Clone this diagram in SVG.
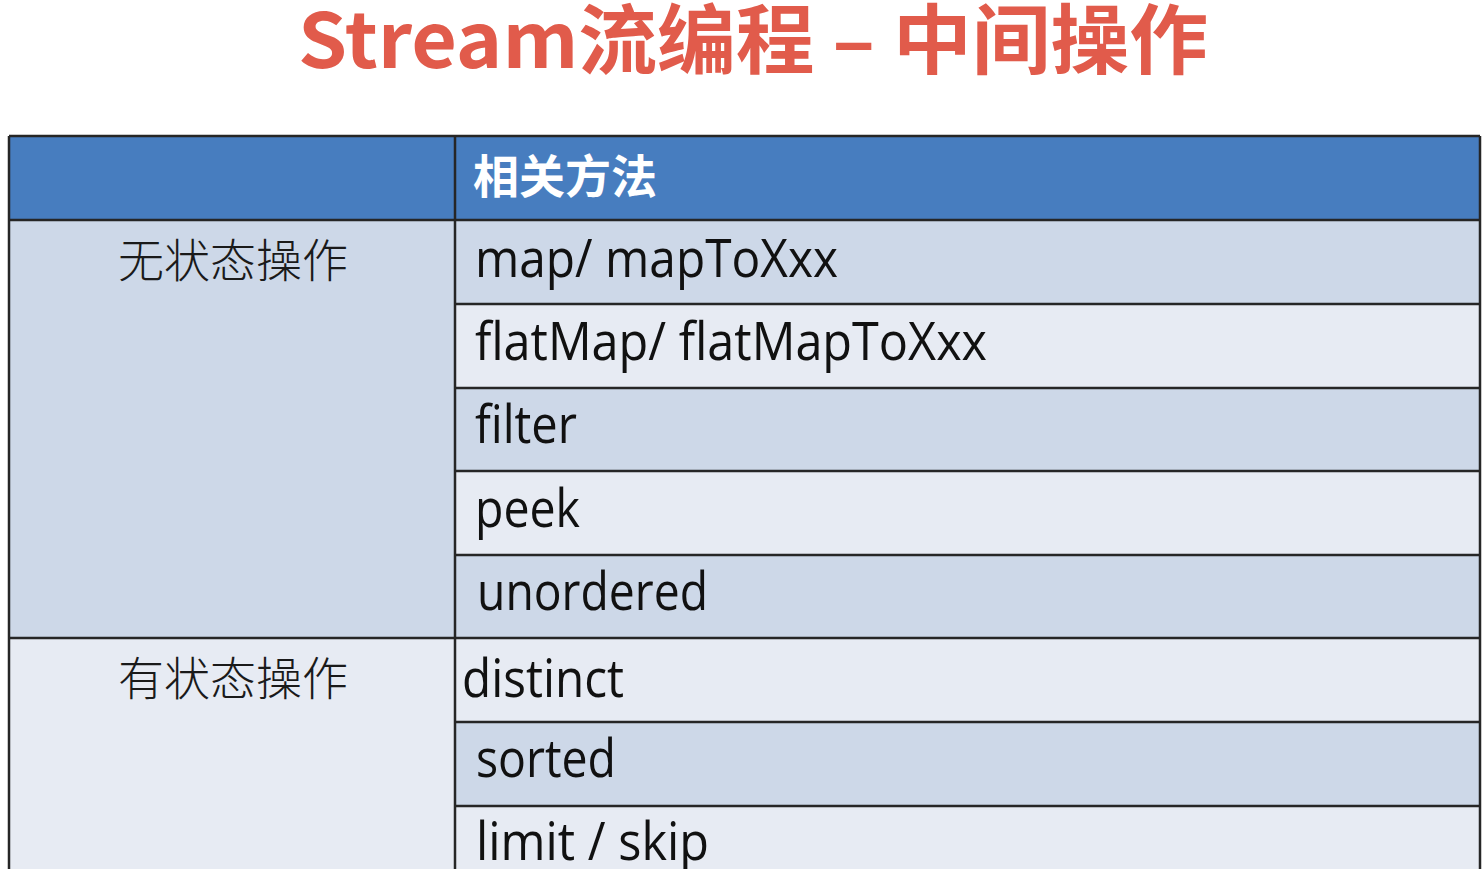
<svg xmlns="http://www.w3.org/2000/svg" width="1482" height="869" viewBox="0 0 1482 869">
<style>
.title{font-family:"Noto Sans CJK SC","Noto Sans",sans-serif;font-weight:700;font-size:76px;fill:#e15b4b}
.hdr{fill:#477dbf}
.dk{fill:#cdd8e8}
.lt{fill:#e7ebf3}
.ln{stroke:#262626;stroke-width:2.5;fill:none}
.htxt{font-family:"Noto Sans CJK SC",sans-serif;font-weight:700;font-size:46px;fill:#ffffff}
.cat{font-family:"Noto Sans CJK SC",sans-serif;font-weight:300;font-size:46px;fill:#1a1a1a}
.m{font-family:"Open Sans","Noto Sans",sans-serif;font-size:53px;fill:#111111}
</style>
<rect x="0" y="0" width="1482" height="869" fill="#ffffff"/>
<g id="title">
<text class="title" x="298" y="68" textLength="910" lengthAdjust="spacingAndGlyphs">Stream流编程 – 中间操作</text>
</g>
<g id="header">
<rect class="hdr" x="9" y="136" width="1471" height="84"/>
<text class="htxt" x="473" y="193">相关方法</text>
</g>
<g id="cat-stateless">
<rect class="dk" x="9" y="220" width="446" height="418"/>
<text class="cat" x="233" y="277" text-anchor="middle">无状态操作</text>
</g>
<g id="cat-stateful">
<rect class="lt" x="9" y="638" width="446" height="240"/>
<text class="cat" x="233" y="695" text-anchor="middle">有状态操作</text>
</g>
<g id="row-map">
<rect class="dk" x="455" y="220" width="1025" height="84"/>
<text class="m" x="475" y="277" textLength="363" lengthAdjust="spacingAndGlyphs">map/ mapToXxx</text>
</g>
<g id="row-flatmap">
<rect class="lt" x="455" y="304" width="1025" height="84"/>
<text class="m" x="475" y="360" textLength="512" lengthAdjust="spacingAndGlyphs">flatMap/ flatMapToXxx</text>
</g>
<g id="row-filter">
<rect class="dk" x="455" y="388" width="1025" height="83"/>
<text class="m" x="475" y="443" textLength="102" lengthAdjust="spacingAndGlyphs">filter</text>
</g>
<g id="row-peek">
<rect class="lt" x="455" y="471" width="1025" height="84"/>
<text class="m" x="475" y="527" textLength="105" lengthAdjust="spacingAndGlyphs">peek</text>
</g>
<g id="row-unordered">
<rect class="dk" x="455" y="555" width="1025" height="83"/>
<text class="m" x="477" y="610" textLength="231" lengthAdjust="spacingAndGlyphs">unordered</text>
</g>
<g id="row-distinct">
<rect class="lt" x="455" y="638" width="1025" height="84"/>
<text class="m" x="462" y="697" textLength="162" lengthAdjust="spacingAndGlyphs">distinct</text>
</g>
<g id="row-sorted">
<rect class="dk" x="455" y="722" width="1025" height="84"/>
<text class="m" x="476" y="777" textLength="140" lengthAdjust="spacingAndGlyphs">sorted</text>
</g>
<g id="row-limit">
<rect class="lt" x="455" y="806" width="1025" height="72"/>
<text class="m" x="476" y="860" textLength="233" lengthAdjust="spacingAndGlyphs">limit / skip</text>
</g>
<g id="grid">
<path class="ln" d="M9 136 H1480 M9 220 H1480 M455 304 H1480 M455 388 H1480 M455 471 H1480 M455 555 H1480 M9 638 H1480 M455 722 H1480 M455 806 H1480"/>
<path class="ln" d="M9 136 V869 M455 136 V869 M1480 136 V869"/>
</g>
</svg>
